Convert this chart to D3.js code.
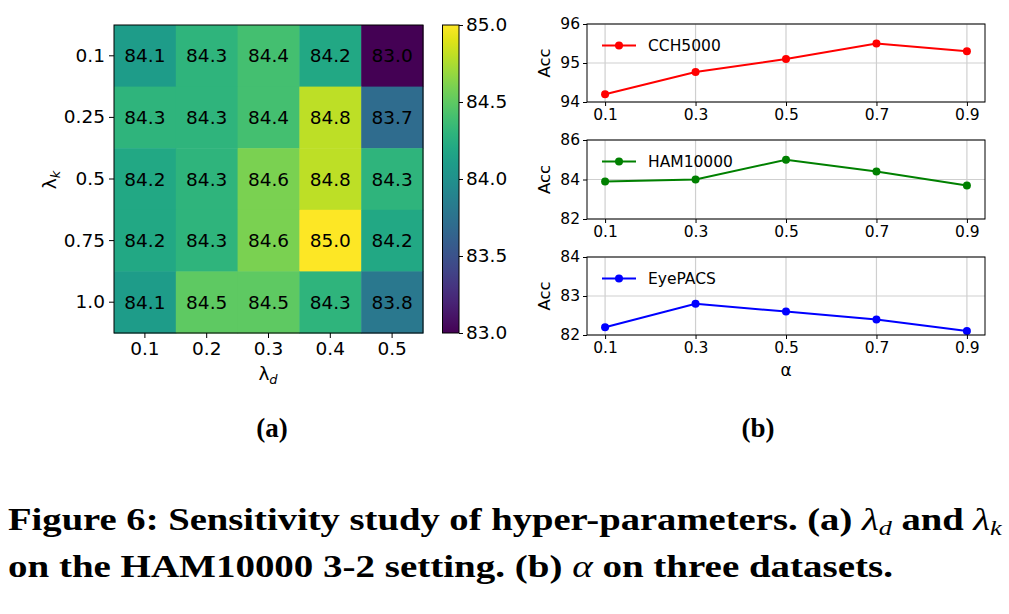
<!DOCTYPE html>
<html><head><meta charset="utf-8">
<script src="https://cdn.jsdelivr.net/npm/d3@7"></script>
<style>
html,body{margin:0;padding:0;background:#fff;}
svg{display:block;}
</style></head>
<body>
<svg id="c" width="1009" height="614" font-family="DejaVu Sans, sans-serif"></svg>
<script>
// ---------- data ----------
const lambdaD = ["0.1", "0.2", "0.3", "0.4", "0.5"];
const lambdaK = ["0.1", "0.25", "0.5", "0.75", "1.0"];
const accGrid = [
  [84.1, 84.3, 84.4, 84.2, 83.0],
  [84.3, 84.3, 84.4, 84.8, 83.7],
  [84.2, 84.3, 84.6, 84.8, 84.3],
  [84.2, 84.3, 84.6, 85.0, 84.2],
  [84.1, 84.5, 84.5, 84.3, 83.8]
];
const colorbarTicks = [83.0, 83.5, 84.0, 84.5, 85.0];
const alphas = [0.1, 0.3, 0.5, 0.7, 0.9];
const alphaTickLabels = ["0.1", "0.3", "0.5", "0.7", "0.9"];
const datasetNames = ["CCH5000", "HAM10000", "EyePACS"];
const cch5000 = [94.2, 94.77, 95.1, 95.5, 95.3];
const ham10000 = [83.9, 84.0, 85.0, 84.4, 83.7];
const eyepacs = [82.2, 82.8, 82.6, 82.4, 82.1];
const yTicksCCH = [94, 95, 96];
const yTicksHAM = [82, 84, 86];
const yTicksEye = [82, 83, 84];

const svg = d3.select("#c");
const sans = "'DejaVu Sans', sans-serif";

// ---------- heatmap ----------
const hx = d3.scaleBand().domain(lambdaD).range([114, 423]);
const hy = d3.scaleBand().domain(lambdaK).range([25, 333]);
const color = d3.scaleSequential(d3.interpolateViridis).domain([83, 85]);

const cells = [];
accGrid.forEach((row, i) => row.forEach((v, j) => cells.push({k: lambdaK[i], d: lambdaD[j], v})));

const hm = svg.append("g");
hm.selectAll("rect").data(cells).join("rect")
  .attr("x", d => hx(d.d)).attr("y", d => hy(d.k))
  .attr("width", hx.bandwidth() + 0.5).attr("height", hy.bandwidth() + 0.5)
  .attr("fill", d => color(d.v));
hm.selectAll("text.val").data(cells).join("text").attr("class", "val")
  .attr("x", d => hx(d.d) + hx.bandwidth() / 2)
  .attr("y", d => hy(d.k) + hy.bandwidth() / 2)
  .attr("text-anchor", "middle").attr("dominant-baseline", "central")
  .attr("font-size", 18.5).attr("fill", "#000")
  .text(d => d.v.toFixed(1));
hm.append("rect").attr("x", 114).attr("y", 25).attr("width", 309).attr("height", 308)
  .attr("fill", "none").attr("stroke", "#000").attr("stroke-width", 1);

const hxAxis = svg.append("g").attr("transform", "translate(0,333)")
  .call(d3.axisBottom(hx).tickSize(5).tickPadding(4));
const hyAxis = svg.append("g").attr("transform", "translate(114,0)")
  .call(d3.axisLeft(hy).tickSize(5).tickPadding(4));
[hxAxis, hyAxis].forEach(a => {
  a.select(".domain").remove();
  a.selectAll("text").attr("font-size", 18.5).attr("font-family", sans).attr("fill", "#000");
  a.selectAll("line").attr("stroke", "#000");
});

// axis labels lambda_d / lambda_k
const xl = svg.append("text").attr("x", 268).attr("y", 380).attr("text-anchor", "middle").attr("font-size", 18.5);
xl.append("tspan").text("λ");
xl.append("tspan").attr("font-style", "italic").attr("font-size", 13).attr("dy", 4).text("d");
const yl = svg.append("text").attr("transform", "translate(56,180) rotate(-90)").attr("text-anchor", "middle").attr("font-size", 18.5);
yl.append("tspan").text("λ");
yl.append("tspan").attr("font-style", "italic").attr("font-size", 13).attr("dy", 4).text("k");

// colorbar
const cb = d3.scaleLinear().domain([83, 85]).range([333, 25]);
const defs = svg.append("defs");
const grad = defs.append("linearGradient").attr("id", "vir").attr("x1", 0).attr("y1", 1).attr("x2", 0).attr("y2", 0);
d3.range(0, 1.0001, 0.05).forEach(t => grad.append("stop").attr("offset", t).attr("stop-color", d3.interpolateViridis(t)));
svg.append("rect").attr("x", 442.5).attr("y", 25).attr("width", 16.5).attr("height", 308)
  .attr("fill", "url(#vir)").attr("stroke", "#000").attr("stroke-width", 1);
const cbAxis = svg.append("g").attr("transform", "translate(459,0)")
  .call(d3.axisRight(cb).tickValues(colorbarTicks).tickFormat(d3.format(".1f")).tickSize(4).tickPadding(3));
cbAxis.select(".domain").remove();
cbAxis.selectAll("text").attr("font-size", 18.5).attr("font-family", sans).attr("fill", "#000");
cbAxis.selectAll("line").attr("stroke", "#000");

// ---------- line charts ----------
const panels = [
  {name: datasetNames[0], vals: cch5000, dom: [94, 96], ticks: yTicksCCH, top: 24, bot: 102, col: "#ff0000"},
  {name: datasetNames[1], vals: ham10000, dom: [82, 86], ticks: yTicksHAM, top: 140, bot: 219, col: "#008000"},
  {name: datasetNames[2], vals: eyepacs, dom: [82, 84], ticks: yTicksEye, top: 257, bot: 335, col: "#0000ff"}
];
const lx = d3.scaleLinear().domain([0.06, 0.94]).range([587, 985]);

panels.forEach((p, idx) => {
  const ly = d3.scaleLinear().domain(p.dom).range([p.bot, p.top]);
  const g = svg.append("g");
  g.selectAll("line.vg").data(alphas).join("line").attr("class", "vg")
    .attr("x1", d => lx(d)).attr("x2", d => lx(d)).attr("y1", p.top).attr("y2", p.bot)
    .attr("stroke", "#cfcfcf").attr("stroke-width", 1.2);
  g.selectAll("line.hg").data(p.ticks).join("line").attr("class", "hg")
    .attr("x1", 587).attr("x2", 985).attr("y1", d => ly(d)).attr("y2", d => ly(d))
    .attr("stroke", "#cfcfcf").attr("stroke-width", 1.2);
  const line = d3.line().x((d, i) => lx(alphas[i])).y(d => ly(d));
  g.append("path").datum(p.vals).attr("d", line).attr("fill", "none")
    .attr("stroke", p.col).attr("stroke-width", 2);
  g.selectAll("circle").data(p.vals).join("circle")
    .attr("cx", (d, i) => lx(alphas[i])).attr("cy", d => ly(d)).attr("r", 4).attr("fill", p.col);
  g.append("rect").attr("x", 587).attr("y", p.top).attr("width", 398).attr("height", p.bot - p.top)
    .attr("fill", "none").attr("stroke", "#000").attr("stroke-width", 1);
  const ax = svg.append("g").attr("transform", `translate(0,${p.bot})`)
    .call(d3.axisBottom(lx).tickValues(alphas).tickFormat((d, i) => alphaTickLabels[i]).tickSize(4).tickPadding(3));
  const ay = svg.append("g").attr("transform", "translate(587,0)")
    .call(d3.axisLeft(ly).tickValues(p.ticks).tickFormat(d3.format("d")).tickSize(4).tickPadding(3));
  [ax, ay].forEach(a => {
    a.select(".domain").remove();
    a.selectAll("text").attr("font-size", 15.5).attr("font-family", sans).attr("fill", "#000");
    a.selectAll("line").attr("stroke", "#000");
  });
  svg.append("text").attr("transform", `translate(550,${(p.top + p.bot) / 2}) rotate(-90)`)
    .attr("text-anchor", "middle").attr("font-size", 16.5).text("Acc");
  const legY = p.top + 21.5;
  svg.append("line").attr("x1", 602).attr("x2", 636).attr("y1", legY).attr("y2", legY)
    .attr("stroke", p.col).attr("stroke-width", 2);
  svg.append("circle").attr("cx", 619).attr("cy", legY).attr("r", 4).attr("fill", p.col);
  svg.append("text").attr("x", 648).attr("y", legY).attr("dominant-baseline", "central")
    .attr("font-size", 15.5).text(p.name);
});
svg.append("text").attr("x", 786).attr("y", 376).attr("text-anchor", "middle").attr("font-size", 17).text("α");

// ---------- sub captions ----------
const serif = "'Liberation Serif', 'DejaVu Serif', serif";
svg.append("text").attr("x", 272).attr("y", 437).attr("text-anchor", "middle")
  .attr("font-family", serif).attr("font-weight", "bold").attr("font-size", 27).text("(a)");
svg.append("text").attr("x", 758).attr("y", 437).attr("text-anchor", "middle")
  .attr("font-family", serif).attr("font-weight", "bold").attr("font-size", 27).text("(b)");

// ---------- figure caption ----------
const c1 = svg.append("text").attr("x", 8).attr("y", 530).attr("font-family", serif)
  .attr("font-weight", "bold").attr("font-size", 31);
c1.append("tspan").text("Figure 6: Sensitivity study of hyper-parameters. (a) ");
c1.append("tspan").attr("font-style", "italic").attr("font-weight", "normal").text("λ");
c1.append("tspan").attr("font-style", "italic").attr("font-weight", "normal").attr("font-size", 21).attr("dy", 5).text("d");
c1.append("tspan").attr("dy", -5).text(" and ");
c1.append("tspan").attr("font-style", "italic").attr("font-weight", "normal").text("λ");
c1.append("tspan").attr("font-style", "italic").attr("font-weight", "normal").attr("font-size", 21).attr("dy", 5).text("k");
const c2 = svg.append("text").attr("x", 8).attr("y", 577).attr("font-family", serif)
  .attr("font-weight", "bold").attr("font-size", 31);
c2.append("tspan").text("on the HAM10000 3-2 setting. (b) ");
c2.append("tspan").attr("font-style", "italic").attr("font-weight", "normal").text("α");
c2.append("tspan").text(" on three datasets.");

function fit(t, w) {
  const bb = t.node().getBBox();
  const s = w / bb.width;
  t.attr("transform", `translate(${8 - 8 * s},0) scale(${s},1)`);
}
fit(c1, 995);
fit(c2, 885);
</script>
</body></html>
